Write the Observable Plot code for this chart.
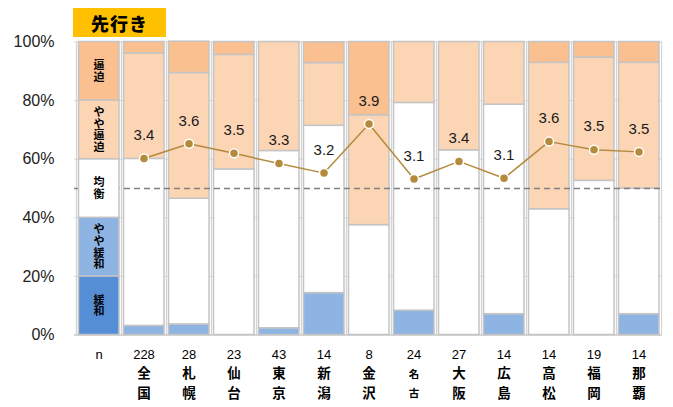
<!DOCTYPE html>
<html>
<head>
<meta charset="utf-8">
<script src="https://cdn.jsdelivr.net/npm/d3@7"></script>
<script src="https://cdn.jsdelivr.net/npm/@observablehq/plot@0.6"></script>
<style>
  html, body { margin: 0; padding: 0; background: #fff; }
  #wrap { position: relative; width: 673px; height: 407px; overflow: hidden; }
  #title {
    position: absolute; left: 73px; top: 8px; width: 93px; height: 29px;
    background: #FFC000; color: #000; font: 900 18px "Noto Sans CJK JP", sans-serif;
    display: flex; align-items: center; justify-content: center; letter-spacing: 1px;
  }
</style>
</head>
<body>
<div id="wrap"><div id="title">先行き</div><div id="chart"></div></div>
<script>
// ---- data ----
const cities = ["全国","札幌","仙台","東京","新潟","金沢","名古屋","大阪","広島","高松","福岡","那覇"];
const nCounts = [228, 28, 23, 43, 14, 8, 24, 27, 14, 14, 19, 14];
const levels = ["緩和","やや緩和","均衡","やや逼迫","逼迫"];
const levelLabels = ["緩\n和","や\nや\n緩\n和","均\n衡","や\nや\n逼\n迫","逼\n迫"];
const levelColors = ["#558ED5","#8EB4E3","#FFFFFF","#FCD5B5","#FAC090"];
const shareKanwa     = [0, 0, 0, 0, 0, 0, 0, 0, 0, 0, 0, 0];
const shareYayaKanwa = [3.1, 3.6, 0, 2.3, 14.3, 0, 8.3, 0, 7.1, 0, 0, 7.1];
const shareKinko     = [57.0, 42.9, 56.5, 60.5, 57.1, 37.5, 70.9, 63.0, 71.5, 42.9, 52.6, 42.9];
const shareYayaHippaku = [36.0, 42.9, 39.1, 37.2, 21.4, 37.5, 20.8, 37.0, 21.4, 50.0, 42.1, 42.9];
const shareHippaku   = [3.9, 10.7, 4.4, 0, 7.1, 25.0, 0, 0, 0, 7.1, 5.3, 7.1];
const diValues = [3.41, 3.61, 3.48, 3.34, 3.21, 3.88, 3.13, 3.37, 3.14, 3.64, 3.53, 3.50];
const diLabels = ["3.4","3.6","3.5","3.3","3.2","3.9","3.1","3.4","3.1","3.6","3.5","3.5"];
const legendKey = "凡例";
const legendShare = [20, 20, 20, 20, 20];
const yTicks = [0, 20, 40, 60, 80, 100];

// ---- tables ----
const seriesShares = [shareKanwa, shareYayaKanwa, shareKinko, shareYayaHippaku, shareHippaku];
const barRows = [];
cities.forEach((c, i) => levels.forEach((lv, j) => {
  if (seriesShares[j][i] > 0) barRows.push({city: c, level: lv, value: seriesShares[j][i]});
}));
const legendRows = levels.map((lv, j) => ({city: legendKey, level: lv, value: legendShare[j], label: levelLabels[j]}));
const cityRows = cities.map((c, i) => ({city: c, n: nCounts[i], di: diValues[i], diLabel: diLabels[i],
  name: [...c].join("\n")}));
const xDomain = [legendKey, ...cities];

const W = 673, H = 407, ML = 74, MR = 11, MT = 41.5, MB = 72.5;
const bw = (W - ML - MR) / xDomain.length;
const cjk = "'Noto Sans CJK JP', sans-serif";
const narrow = "'Liberation Sans Narrow', 'Liberation Sans', sans-serif";
const lineColor = "#B48A3C";

const chart = Plot.plot({
  width: W, height: H,
  marginLeft: ML, marginRight: MR, marginTop: MT, marginBottom: MB,
  style: {fontFamily: "'Liberation Sans', Arial, sans-serif", background: "white", overflow: "visible", color: "#222"},
  x: {domain: xDomain, padding: 0, axis: null},
  y: {domain: [0, 100], axis: null},
  color: {domain: levels, range: levelColors, legend: false},
  marks: [
    Plot.gridY(yTicks, {stroke: "#d9d9d9", strokeOpacity: 1, strokeWidth: 1}),
    Plot.ruleX(xDomain, {x: d => d, dx: -bw / 2, y1: 0, y2: 100, stroke: "#cfcfcf", strokeWidth: 1}),
    Plot.ruleX([xDomain[xDomain.length - 1]], {x: d => d, dx: bw / 2, y1: 0, y2: 100, stroke: "#cfcfcf", strokeWidth: 1}),
    Plot.ruleY([0], {stroke: "#bfbfbf", strokeWidth: 1}),
    Plot.barY(barRows, {x: "city", y: "value", fill: "level", stroke: "#c4c4c4", strokeWidth: 1.5, insetLeft: 2.5, insetRight: 2}),
    Plot.ruleY([50], {stroke: "#808080", strokeWidth: 1.3, strokeDasharray: "6,4"}),
    Plot.barY(legendRows, {x: "city", y: "value", fill: "level", stroke: "#c4c4c4", strokeWidth: 1.5, insetLeft: 2.5, insetRight: 2}),
    Plot.text(legendRows, Plot.stackY({x: "city", y: "value", text: "label", fontFamily: cjk, fontWeight: "bold", fontSize: 11, lineHeight: 1.06, fill: "#000"})),
    Plot.axisY(yTicks, {tickSize: 0, tickPadding: 20, tickFormat: d => d + "%", fontSize: 16, fill: "#222", label: null}),
    Plot.lineY(cityRows, {x: "city", y: d => (d.di - 1) * 25, stroke: lineColor, strokeWidth: 1.5}),
    Plot.dot(cityRows, {x: "city", y: d => (d.di - 1) * 25, r: 4.5, fill: lineColor, stroke: "white", strokeWidth: 1.5}),
    Plot.text(cityRows, {x: "city", y: d => (d.di - 1) * 25, text: "diLabel", dy: -23, fontSize: 15, fill: "#1a1a1a"}),
    Plot.text([legendKey], {x: d => d, frameAnchor: "bottom", lineAnchor: "middle", dy: 19.5, text: () => "n", fontSize: 13, fontFamily: narrow, fill: "#000"}),
    Plot.text(cityRows, {x: "city", frameAnchor: "bottom", lineAnchor: "middle", dy: 19.5, text: d => String(d.n), fontSize: 13, fontFamily: narrow, fill: "#000"}),
    Plot.text(cityRows.filter(d => d.city.length === 2), {x: "city", frameAnchor: "bottom", lineAnchor: "middle", dy: 46.5, text: "name", fontSize: 13.5, lineHeight: 1.48, fontWeight: "bold", fontFamily: cjk, fill: "#000"}),
    Plot.text(cityRows.filter(d => d.city.length === 3), {x: "city", frameAnchor: "bottom", lineAnchor: "middle", dy: 56, text: "name", fontSize: 10.5, lineHeight: 1.8, fontWeight: "bold", fontFamily: cjk, fill: "#000"})
  ]
});
document.getElementById("chart").appendChild(chart);
</script>
</body>
</html>
